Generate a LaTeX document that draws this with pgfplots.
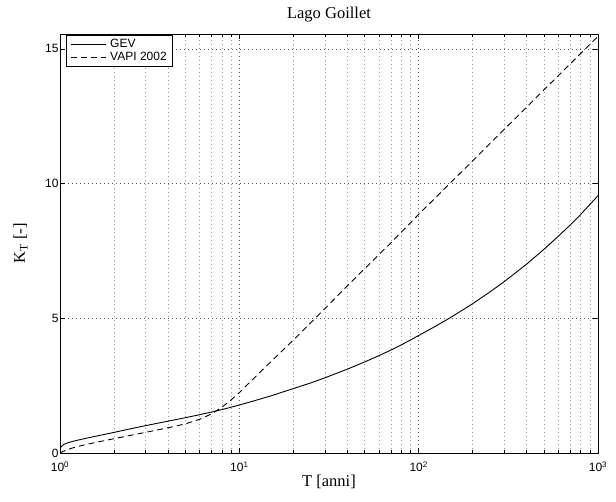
\documentclass[border=0pt]{standalone}
\usepackage{fontspec}
\setmainfont{Liberation Serif}
\newfontfamily\helv{Liberation Sans}
\usepackage{pgfplots}
\pgfplotsset{compat=1.18}
\begin{document}
\begin{tikzpicture}
\useasboundingbox (-60pt,-49pt) rectangle (556pt,453pt);
\begin{semilogxaxis}[
  scale only axis, width=538pt, height=419pt,
  xmin=1, xmax=1000, ymin=0, ymax=15.55,
  xtick={1,10,100,1000},
  xticklabels={10\textsuperscript{0},10\textsuperscript{1},10\textsuperscript{2},10\textsuperscript{3}},
  minor xtick={2,3,4,5,6,7,8,9,20,30,40,50,60,70,80,90,200,300,400,500,600,700,800,900},
  ytick={0,5,10,15}, yticklabels={0,5,10,15},
  ticklabel style={font=\helv\fontsize{12}{14}\selectfont},
  xticklabel style={yshift=-5.5pt},
  yticklabel style={xshift=2pt},
  tick align=inside, tick pos=both,
  major tick length=5pt, minor tick length=3pt,
  tick style={black, line width=0.5pt},
  axis line style={black, line width=0.8pt},
  xmajorgrids, xminorgrids, ymajorgrids,
  major grid style={black!65, line width=0.5pt, dash pattern=on 1pt off 3pt},
  minor grid style={black!40, line width=0.5pt, dash pattern=on 1pt off 3pt},
  title={Lago Goillet},
  title style={font=\fontsize{16.5}{18}\selectfont, at={(axis description cs:0.5,1)}, anchor=base, yshift=9.5pt},
  xlabel={T [anni]},
  xlabel style={font=\fontsize{16.5}{18}\selectfont, at={(axis description cs:0.5,0)}, anchor=base, yshift=-33.7pt},
  ylabel={K\textsubscript{T} [-]},
  ylabel style={font=\fontsize{16.5}{18}\selectfont, at={(axis description cs:-0.0651,0.5)}, anchor=base},
  legend style={at={(axis description cs:0,1)}, anchor=north west, xshift=6pt, yshift=-1pt,
    font=\helv\fontsize{12}{14}\selectfont, draw=black, line width=0.7pt,
    inner xsep=4pt, inner ysep=2pt, row sep=-1pt,
    /tikz/every odd column/.append style={column sep=2pt}},
  legend cell align=left,
  legend image code/.code={\draw[#1] (0pt,0pt) -- (35pt,0pt);},
]
\addplot[black, line width=0.9pt] coordinates {
(1,0.17) (1.02,0.25) (1.05,0.315) (1.1,0.375) (1.2,0.445) (1.3,0.50) (1.5,0.59) (1.7,0.665)
(2,0.765) (2.5,0.905) (3,1.015) (4,1.18) (5,1.31) (6,1.42) (7,1.52) (8,1.61) (10,1.78)
(12,1.93) (15,2.12) (20,2.39) (25,2.60) (30,2.79) (40,3.11) (50,3.38) (60,3.61) (70,3.82)
(80,4.01) (100,4.36) (120,4.65) (150,5.02) (200,5.54) (250,5.98) (300,6.36) (400,7.01)
(500,7.56) (600,8.04) (700,8.46) (800,8.85) (1000,9.55)};
\addlegendentry{GEV}
\addplot[black, line width=0.9pt, dash pattern=on 6pt off 4pt] coordinates {
(1,0.0) (1.02,0.03) (1.05,0.07) (1.1,0.125) (1.2,0.205) (1.3,0.265) (1.5,0.36) (1.7,0.435)
(2,0.53) (2.5,0.66) (3,0.765) (4,0.935) (5,1.08) (6,1.25) (7,1.45) (8,1.70) (9,1.97)
(10,2.24) (12,2.76) (15,3.39) (20,4.19) (30,5.36) (40,6.20) (50,6.84) (70,7.80)
(100,8.855) (150,10.02) (200,10.84) (300,12.01) (500,13.48) (700,14.44) (1000,15.47)};
\addlegendentry{VAPI 2002}
\end{semilogxaxis}
\end{tikzpicture}
\end{document}
